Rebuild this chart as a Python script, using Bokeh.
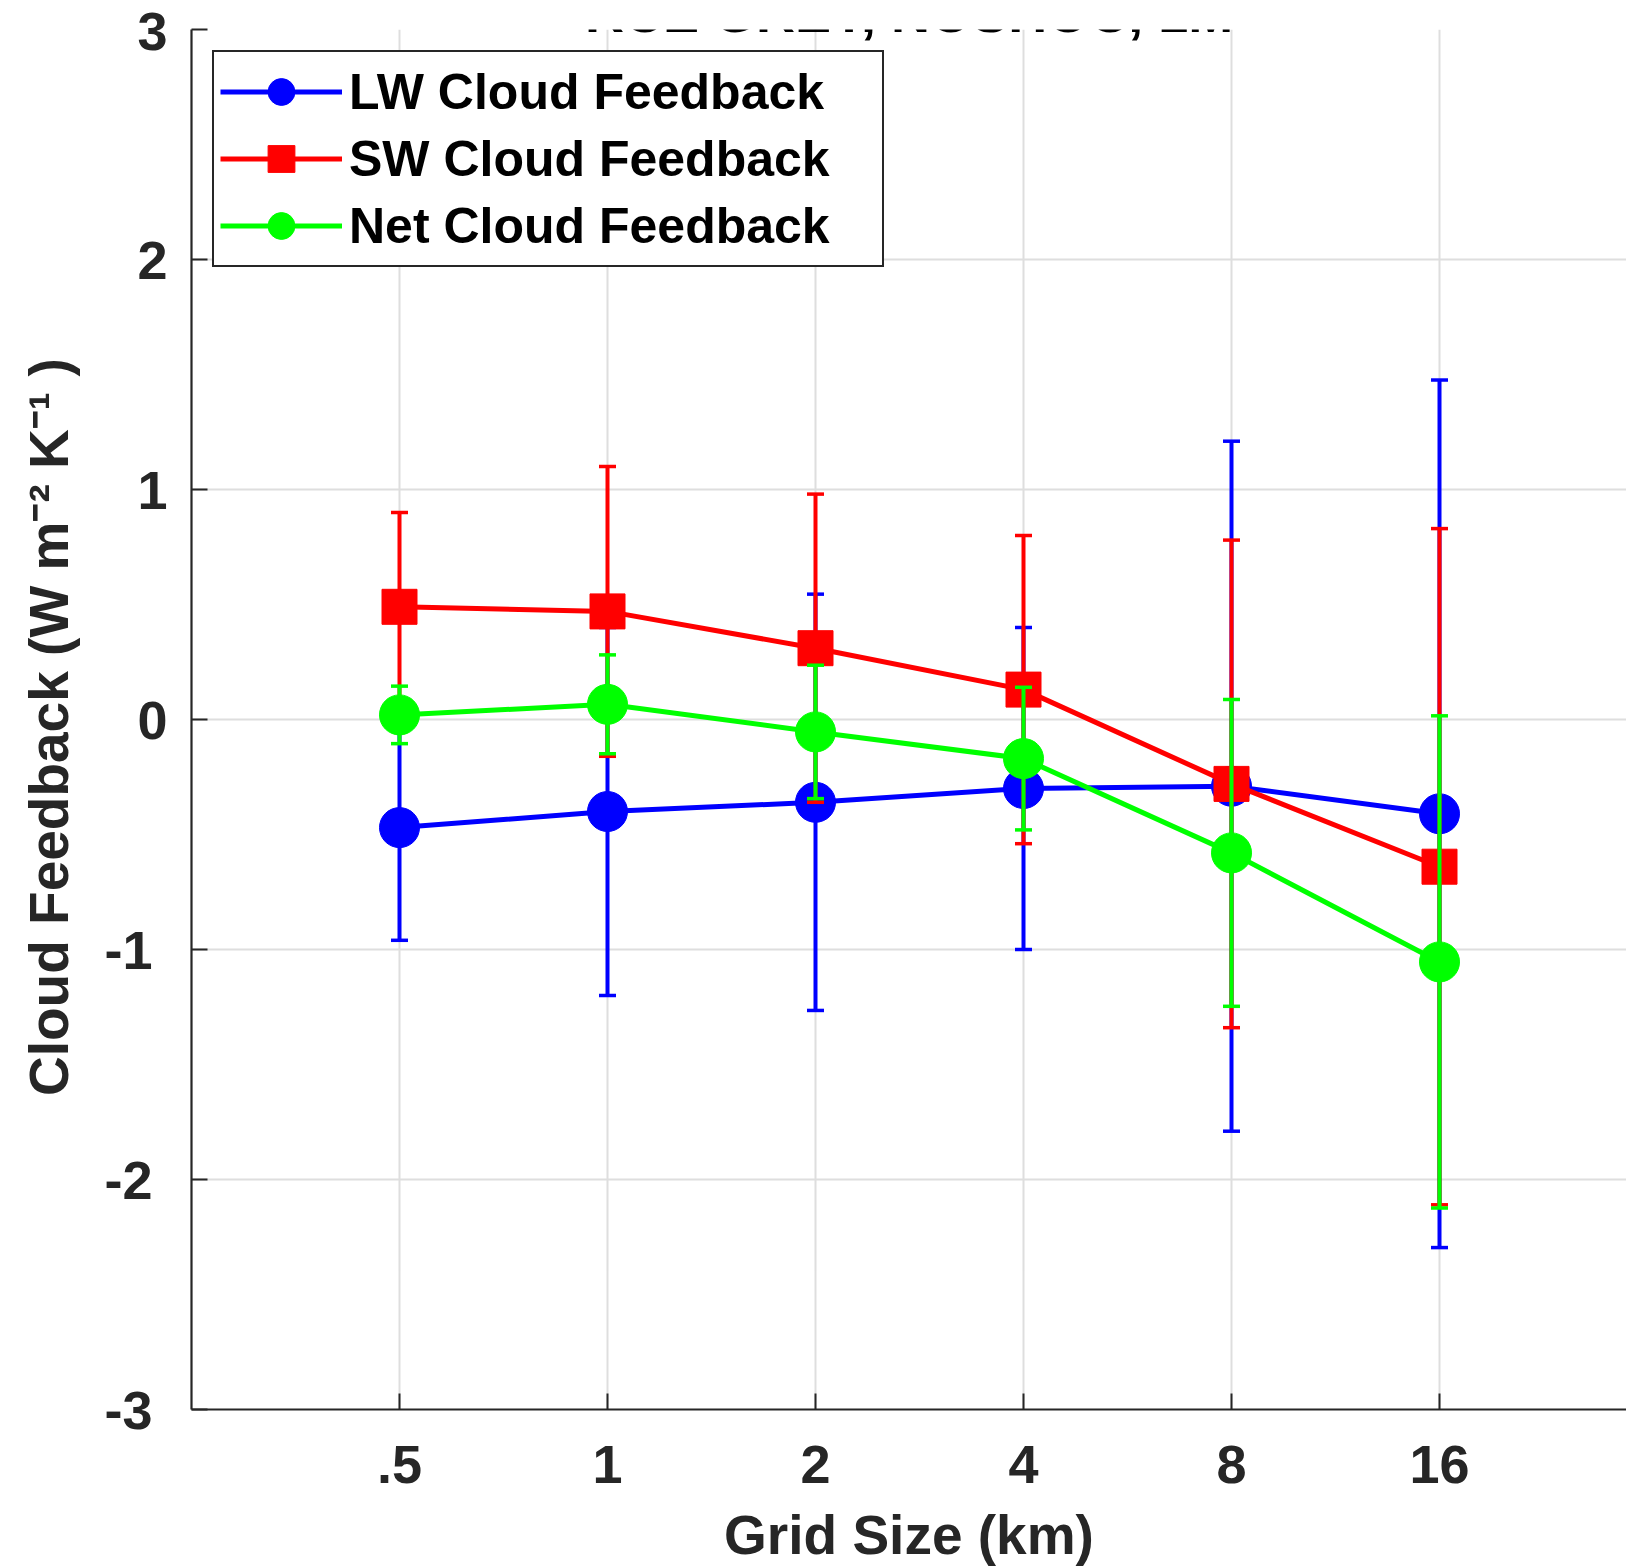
import numpy as np
from bokeh.plotting import figure
from bokeh.models import (Range1d, FixedTicker, Legend, LegendItem, Label,
                          ColumnDataSource)
from bokeh.embed import file_html
from bokeh.resources import INLINE

# ---- data ----
grid_labels = [".5", "1", "2", "4", "8", "16"]
title_text = "RCE GREY, NOSHOC, 1M"

lw_mean = [-0.47, -0.40, -0.36, -0.30, -0.29, -0.41]
lw_err = [0.49, 0.80, 0.905, 0.70, 1.50, 1.886]

sw_mean = [0.49, 0.47, 0.31, 0.13, -0.28, -0.64]
sw_err = [0.41, 0.63, 0.67, 0.67, 1.06, 1.47]

net_mean = [0.02, 0.066, -0.054, -0.17, -0.58, -1.054]
net_err = [0.125, 0.215, 0.29, 0.31, 0.667, 1.07]

y_ticks = [-3, -2, -1, 0, 1, 2, 3]
y_tick_labels = ["-3\u00a0", "-2\u00a0", "-1\u00a0", "0", "1", "2", "3"]

# ---- figure ----
FONT = "Liberation Sans"
AX = "#262626"

p = figure(width=1626, height=1568, output_backend="svg", toolbar_location=None,
           x_range=Range1d(0, 6.899), y_range=Range1d(-3, 3),
           min_border_left=191, min_border_top=29, min_border_bottom=158,
           min_border_right=0)
p.outline_line_color = None
p.background_fill_color = "white"
p.border_fill_color = "white"

xs = list(np.arange(1, len(grid_labels) + 1))

for ax in (p.xaxis[0], p.yaxis[0]):
    ax.axis_line_color = AX
    ax.axis_line_width = 2.2
    ax.major_tick_line_color = AX
    ax.major_tick_line_width = 2
    ax.major_tick_in = 16
    ax.major_tick_out = 0
    ax.minor_tick_line_color = None
    ax.major_label_text_font = FONT
    ax.major_label_text_font_style = "bold"
    ax.major_label_text_font_size = "54px"
    ax.major_label_text_color = AX
    ax.axis_label_text_font = FONT
    ax.axis_label_text_font_style = "bold"
    ax.axis_label_text_font_size = "55px"
    ax.axis_label_text_color = AX

p.xaxis.ticker = FixedTicker(ticks=xs)
p.xaxis.major_label_overrides = {int(x): lab for x, lab in zip(xs, grid_labels)}
p.xaxis.major_label_standoff = 36
p.xaxis.axis_label = "Grid Size (km)"
p.xaxis.axis_label_standoff = 18

p.yaxis.ticker = FixedTicker(ticks=y_ticks)
p.yaxis.major_label_overrides = {int(t): lab for t, lab in zip(y_ticks, y_tick_labels)}
p.yaxis.major_label_standoff = 24
p.yaxis.axis_label = "Cloud Feedback  (W m\u207B\u00B2 K\u207B\u00B9 )"
p.yaxis.axis_label_standoff = 21

p.xgrid.ticker = FixedTicker(ticks=xs)
p.ygrid.ticker = FixedTicker(ticks=y_ticks)
for g in (p.xgrid[0], p.ygrid[0]):
    g.grid_line_color = "#dedede"
    g.grid_line_width = 2

series = [
    ("LW Cloud Feedback", lw_mean, lw_err, "#0000ff", "circle", 40),
    ("SW Cloud Feedback", sw_mean, sw_err, "#ff0000", "square", 35),
    ("Net Cloud Feedback", net_mean, net_err, "#00ff00", "circle", 40),
]

items = []
for name, mean, err, color, marker, size in series:
    m = np.array(mean)
    e = np.array(err)
    src = ColumnDataSource(dict(x=xs, y=m, lo=m - e, hi=m + e))
    p.segment(x0="x", y0="lo", x1="x", y1="hi", source=src,
              line_color=color, line_width=4)
    p.scatter(x="x", y="lo", source=src, marker="dash", size=17,
              line_color=color, line_width=3.5)
    p.scatter(x="x", y="hi", source=src, marker="dash", size=17,
              line_color=color, line_width=3.5)
    ln = p.line(x="x", y="y", source=src, line_color=color, line_width=5)
    sc = p.scatter(x="x", y="y", source=src, marker=marker, size=size,
                   fill_color=color, line_color=color)
    items.append(LegendItem(label=name, renderers=[ln, sc]))

legend = Legend(items=items, location="top_left", margin=21,
                glyph_width=122, glyph_height=67, spacing=0, padding=6,
                label_standoff=7, label_width=527,
                label_text_font=FONT, label_text_font_style="bold",
                label_text_font_size="50px", label_text_color="black",
                border_line_color=AX, border_line_width=2, border_line_alpha=1,
                background_fill_color="white", background_fill_alpha=1)
p.add_layout(legend, "center")

title = Label(x=3.45, y=3.072, text=title_text, text_align="center",
              text_baseline="alphabetic", text_font=FONT,
              text_font_style="bold", text_font_size="54px", text_color="black")
p.add_layout(title)

open("out.html", "w").write(file_html(p, INLINE))
